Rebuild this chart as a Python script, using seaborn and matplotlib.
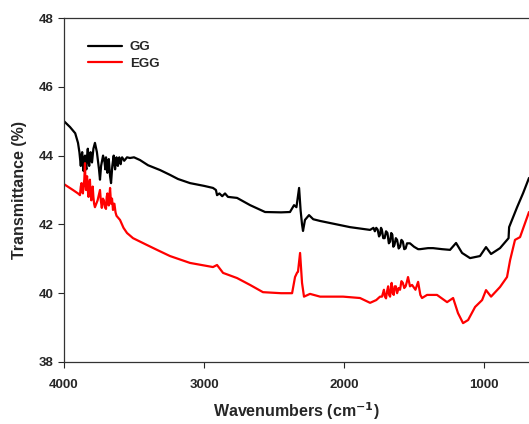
import numpy as np
import pandas as pd
import matplotlib
matplotlib.use("Agg")
import matplotlib.pyplot as plt
import seaborn as sns

sns.set_style("ticks")
plt.rcParams["font.family"] = ["Liberation Sans", "DejaVu Sans"]
plt.rcParams["font.weight"] = "bold"

# -----------------------------------
# data (wavenumber, transmittance)
# -----------------------------------
gg_wn = [4000, 3957, 3920, 3900, 3890, 3885, 3880, 3875, 3870, 3865, 3860, 3855,
         3850, 3845, 3840, 3835, 3830, 3825, 3820, 3815, 3810, 3805, 3800, 3795,
         3790, 3779, 3765, 3750, 3743, 3735, 3721, 3710, 3705, 3700, 3695, 3690,
         3685, 3680, 3675, 3671, 3664, 3655, 3650, 3645, 3640, 3635, 3630, 3625,
         3620, 3615, 3610, 3605, 3600, 3595, 3590, 3585, 3570,
         3550, 3529, 3500, 3457, 3400, 3314, 3243, 3186, 3100, 3000, 2936, 2915,
         2907, 2890, 2870, 2850, 2829, 2764, 2671, 2564, 2450, 2386, 2357, 2340,
         2321, 2310, 2300, 2293, 2279, 2250, 2220, 2171, 2100, 1957, 1814, 1790,
         1780, 1770, 1760, 1750, 1743, 1736, 1730, 1720, 1710, 1700, 1690, 1680,
         1671, 1663, 1655, 1648, 1640, 1630, 1621, 1610, 1600, 1590, 1580, 1570,
         1560, 1550, 1543, 1529, 1500, 1471, 1457, 1400, 1364, 1300, 1243, 1200,
         1157, 1100, 1029, 986, 950, 886, 836, 825, 821, 764, 721, 679]
gg_t = [45.0, 44.83, 44.65, 44.37, 44.1, 43.9, 43.7, 44.0, 44.1, 43.8, 43.55, 43.9,
        44.0, 43.7, 43.6, 44.0, 44.2, 43.9, 43.7, 44.05, 44.1, 43.85, 43.8, 44.0,
        44.2, 44.37, 44.1, 43.6, 43.3, 43.7, 44.0, 43.8, 43.6, 43.95, 43.7, 43.5,
        43.85, 43.9, 43.6, 43.4, 43.2, 43.7, 43.85, 44.0, 43.75, 43.6, 43.85, 43.95,
        43.75, 43.7, 43.9, 43.95, 43.8, 43.75, 43.9, 43.95, 43.85,
        43.95, 43.93, 43.95, 43.87, 43.72, 43.58, 43.44, 43.32, 43.2, 43.12, 43.06, 43.0,
        42.85, 42.9, 42.82, 42.9, 42.8, 42.77, 42.56, 42.36, 42.35, 42.36, 42.56, 42.5,
        43.06, 42.4, 42.0, 41.81, 42.13, 42.27, 42.15, 42.1, 42.04, 41.92, 41.84, 41.9,
        41.8, 41.9, 41.85, 41.65, 41.7, 41.9, 41.85, 41.6, 41.6, 41.8, 41.75, 41.45,
        41.5, 41.75, 41.7, 41.35, 41.4, 41.6, 41.55, 41.3, 41.35, 41.55, 41.5, 41.28,
        41.3, 41.45, 41.45, 41.45, 41.35, 41.28, 41.28, 41.31, 41.31, 41.28, 41.26, 41.46,
        41.17, 41.02, 41.08, 41.34, 41.14, 41.31, 41.55, 41.6, 41.92, 42.5, 42.91, 43.35]

egg_wn = [4000, 3936, 3900, 3886, 3880, 3875, 3870, 3865, 3860, 3855, 3850, 3847,
          3843, 3839, 3835, 3830, 3825, 3820, 3815, 3810, 3805, 3800, 3795, 3790,
          3785, 3779, 3760, 3743, 3737, 3730, 3722, 3715, 3708, 3700, 3695, 3690,
          3685, 3680, 3675, 3671, 3664, 3657, 3650, 3645, 3640, 3632, 3625, 3600,
          3575, 3550, 3507, 3457, 3407, 3336, 3243,
          3100, 2936, 2907, 2864, 2764, 2671, 2579, 2450, 2371, 2350, 2335, 2329,
          2314, 2300, 2286, 2243, 2171, 2100, 2007, 1886, 1814, 1770, 1743, 1729,
          1722, 1715, 1708, 1700, 1693, 1685, 1678, 1671, 1665, 1660, 1652, 1645,
          1638, 1630, 1621, 1610, 1600, 1590, 1580, 1570, 1560, 1550, 1543,
          1529, 1514, 1490, 1471, 1455, 1443, 1407, 1336, 1264, 1221, 1186, 1150,
          1114, 1064, 1014, 986, 950, 886, 836, 814, 779, 743, 679]
egg_t = [43.17, 43.0, 42.9, 42.85, 43.1, 43.2, 42.95, 42.9, 43.15, 43.3, 43.78, 43.2,
         43.0, 43.3, 43.4, 43.0, 42.8, 43.1, 43.3, 42.9, 42.7, 42.95, 43.1, 42.8,
         42.6, 42.5, 42.7, 43.0, 42.7, 42.48, 42.75, 42.7, 42.5, 42.45, 42.8, 42.9,
         42.6, 42.55, 42.85, 43.06, 42.6, 42.75, 42.42, 42.6, 42.6, 42.35, 42.25, 42.13,
         41.9, 41.75, 41.6, 41.5, 41.4, 41.26, 41.08,
         40.88, 40.76, 40.82, 40.59, 40.44, 40.24, 40.03, 40.0, 40.0, 40.47, 40.6, 40.62,
         41.17, 40.3, 39.9, 39.98, 39.9, 39.9, 39.9, 39.86, 39.72, 39.8, 39.9, 39.9,
         40.0, 40.1, 39.9, 39.85, 40.05, 40.2, 39.95, 39.9, 40.15, 40.3, 40.0, 39.95,
         40.2, 40.2, 40.0, 40.15, 40.1, 40.35, 40.3, 40.15, 40.2, 40.35, 40.47,
         40.2, 40.24, 40.1, 40.33, 39.95, 39.86, 39.95, 39.95, 39.74, 39.86, 39.42, 39.13,
         39.22, 39.6, 39.8, 40.09, 39.9, 40.18, 40.47, 40.96, 41.55, 41.63, 42.36]

df = pd.concat([
    pd.DataFrame({"Wavenumber": gg_wn, "T": gg_t, "Sample": "GG"}),
    pd.DataFrame({"Wavenumber": egg_wn, "T": egg_t, "Sample": "EGG"}),
], ignore_index=True)

# -----------------------------------
# plot
# -----------------------------------
fig = plt.figure(figsize=(5.29, 4.24), dpi=100)
ax = fig.add_axes([64 / 529, 62 / 424, 1 - 64 / 529, 344 / 424])

sns.lineplot(data=df, x="Wavenumber", y="T", hue="Sample", sort=False,
             palette={"GG": "black", "EGG": "red"}, linewidth=1.6, ax=ax)

ax.set_xlim(4000, 679)
ax.set_ylim(38, 48)
ax.set_xticks([4000, 3000, 2000, 1000])
ax.set_yticks([38, 40, 42, 44, 46, 48])
ax.tick_params(direction="out", length=4, width=0.8, labelsize=9.5)
ax.tick_params(axis="x", pad=8)
for lbl in ax.get_xticklabels() + ax.get_yticklabels():
    lbl.set_fontweight("bold")

ax.set_xlabel("Wavenumbers (cm$^{\\mathbf{-1}}$)", fontsize=11.5, fontweight="bold", labelpad=7)
ax.set_ylabel("Transmittance (%)", fontsize=11.5, fontweight="bold", labelpad=8)

ax.spines["right"].set_visible(False)
for s in ["top", "left", "bottom"]:
    ax.spines[s].set_linewidth(0.9)
    ax.spines[s].set_color("#333333")

leg = ax.legend(loc="upper left", bbox_to_anchor=(0.025, 0.968), frameon=False,
                handlelength=2.6, handletextpad=0.6, fontsize=9.5, labelspacing=0.35,
                title=None)
for t in leg.get_texts():
    t.set_fontweight("bold")

fig.savefig("out.png", dpi=100)
